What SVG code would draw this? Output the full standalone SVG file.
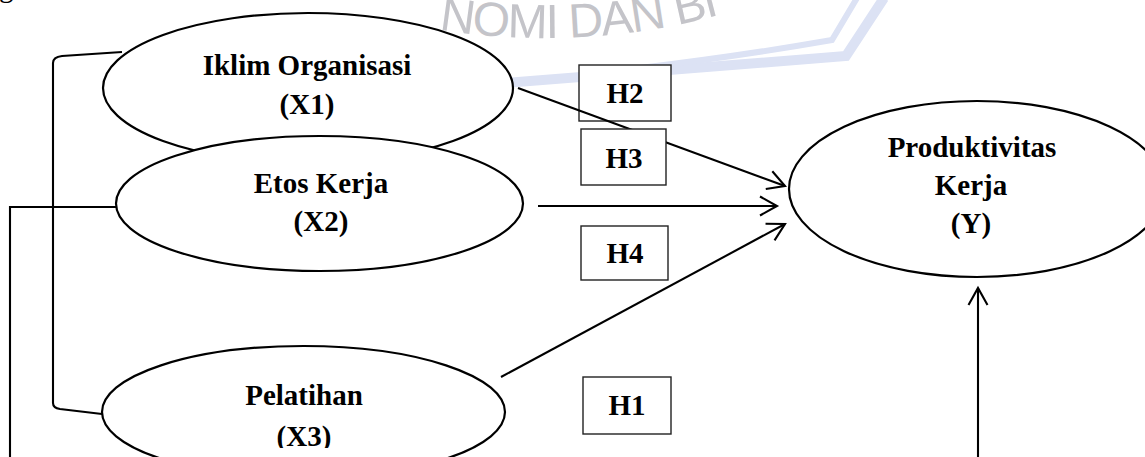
<svg xmlns="http://www.w3.org/2000/svg" width="1145" height="457" viewBox="0 0 1145 457">
<style>
.node{fill:#fff;stroke:#000;stroke-width:2.2}
.lbl{font-family:"Liberation Serif","Times New Roman",serif;font-weight:bold;font-size:29px;fill:#000;text-anchor:middle}
.box{fill:#fff;stroke:#222;stroke-width:1.4}
.conn{fill:none;stroke:#000;stroke-width:2.1}
.band{fill:none;stroke:#dce2f4;stroke-linecap:butt}
.wm{font-family:"Liberation Sans",Arial,sans-serif;font-size:48px;fill:#c4c4c9;letter-spacing:-1.5px}
</style>
<defs>
<marker id="arr" markerUnits="userSpaceOnUse" markerWidth="30" markerHeight="30" viewBox="-22 -15 30 30" refX="0" refY="0" orient="auto" overflow="visible">
<path d="M-17,-9.5 L0,0 L-17,9.5" fill="none" stroke="#000" stroke-width="2.1"/>
</marker>
<path id="wmArc" d="M380 17.3 A667 667 0 0 0 760 2.4"/>
<clipPath id="clipX3"><rect x="0" y="0" width="1145" height="448"/></clipPath>
</defs>
<rect width="1145" height="457" fill="#fff"/>
<g id="watermark">
<path class="band" stroke-width="10" d="M505 83 Q680 69 846 56 L884 -2"/>
<path class="band" stroke-width="6" d="M640 68 Q740 56 832 40 L857 -2"/>
<text class="wm"><textPath href="#wmArc" startOffset="60">NOMI DAN BI</textPath></text>
</g>
<text x="-1" y="-3" font-family="Liberation Serif, serif" font-size="29">g</text>
<g id="node-x1">
<ellipse class="node" cx="308" cy="88" rx="205" ry="75"/>
<text class="lbl" x="307" y="75">Iklim Organisasi</text>
<text class="lbl" x="307" y="114">(X1)</text>
</g>
<g id="node-x2">
<ellipse class="node" cx="319.5" cy="203.5" rx="203.5" ry="67.5"/>
<text class="lbl" x="321" y="193">Etos Kerja</text>
<text class="lbl" x="321" y="231">(X2)</text>
</g>
<g id="node-x3">
<ellipse class="node" cx="303.5" cy="412" rx="201.5" ry="66"/>
<text class="lbl" x="304" y="405">Pelatihan</text>
<text class="lbl" x="304" y="446" clip-path="url(#clipX3)">(X3)</text>
</g>
<g id="node-y">
<ellipse class="node" cx="977" cy="189" rx="188" ry="88"/>
<text class="lbl" x="972" y="157">Produktivitas</text>
<text class="lbl" x="971" y="195">Kerja</text>
<text class="lbl" x="971" y="233">(Y)</text>
</g>
<g id="node-h2">
<rect class="box" x="579" y="65" width="92" height="56"/>
<text class="lbl" x="625" y="103">H2</text>
</g>
<g id="connectors">
<path class="conn" d="M122 52 L62 56 Q53 57 53 63 L53 403 Q53 408 60 409 L102 414"/>
<path class="conn" d="M116 207 L10 207 L10 457"/>
<path class="conn" d="M518 88 L785 186" marker-end="url(#arr)"/>
<path class="conn" d="M538 206 L777 206" marker-end="url(#arr)"/>
<path class="conn" d="M501 377 L785 224" marker-end="url(#arr)"/>
<path class="conn" d="M978 457 L978 288" marker-end="url(#arr)"/>
</g>
<g id="node-h3">
<rect class="box" x="581" y="129" width="85" height="56"/>
<text class="lbl" x="624" y="168">H3</text>
</g>
<g id="node-h4">
<rect class="box" x="581" y="226" width="87" height="54"/>
<text class="lbl" x="625" y="263">H4</text>
</g>
<g id="node-h1">
<rect class="box" x="583" y="377" width="88" height="57"/>
<text class="lbl" x="627" y="415">H1</text>
</g>
</svg>
